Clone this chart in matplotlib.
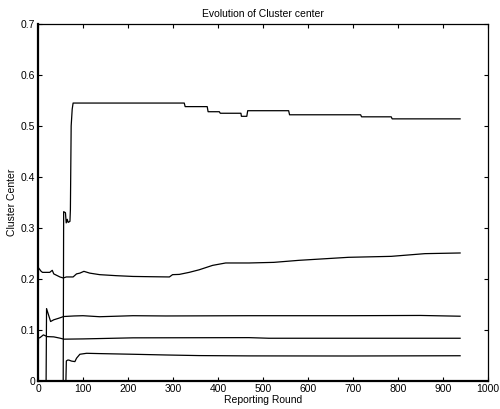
import numpy as np
import matplotlib
matplotlib.use("Agg")
import matplotlib.pyplot as plt
from matplotlib.ticker import FuncFormatter

plt.rcParams["font.family"] = ["Liberation Sans", "DejaVu Sans"]

# cluster center traces
round_a = [0, 56, 57, 61, 62.7, 65, 67, 71, 72, 73.7, 76, 78, 325, 327, 376, 378, 403, 405,
           451, 452, 464, 466, 557, 559, 717, 719, 785, 787, 938]
center_a = [0, 0, 0.332, 0.330, 0.310, 0.317, 0.311, 0.313, 0.336, 0.50, 0.533, 0.545, 0.545,
            0.538, 0.538, 0.528, 0.528, 0.525, 0.525, 0.519, 0.519, 0.530, 0.530, 0.522, 0.522,
            0.518, 0.518, 0.514, 0.514]

round_b = [0, 1, 7, 10, 26, 31.7, 35, 48.7, 56, 63, 78, 85.6, 93, 102, 115, 137, 174, 211, 248,
           292, 299, 314, 336, 358, 388, 417, 469, 524, 580, 690, 785, 860, 938]
center_b = [0, 0.222, 0.215, 0.213, 0.213, 0.217, 0.210, 0.204, 0.202, 0.204, 0.204, 0.210,
            0.2115, 0.215, 0.2115, 0.2085, 0.2065, 0.205, 0.2045, 0.204, 0.2085, 0.209, 0.213,
            0.218, 0.2267, 0.2314, 0.2314, 0.2326, 0.2366, 0.2425, 0.2444, 0.2497, 0.251]

round_c = [0, 18, 19, 28, 35, 46, 57, 80, 100, 137, 211, 284, 469, 690, 850, 938]
center_c = [0, 0, 0.142, 0.1166, 0.12, 0.123, 0.1264, 0.1275, 0.128, 0.126, 0.128, 0.1275,
            0.128, 0.128, 0.1285, 0.127]

round_d = [0, 1, 4.4, 12, 20.6, 35, 48.7, 57.5, 100, 211, 469, 513, 938]
center_d = [0, 0.084, 0.085, 0.0904, 0.087, 0.0865, 0.084, 0.082, 0.0825, 0.0846, 0.085,
            0.0838, 0.0838]

round_e = [0, 62, 63, 66, 68.6, 74.5, 82, 85.6, 93, 108, 137, 211, 284, 358, 469, 690, 938]
center_e = [0, 0, 0.0393, 0.041, 0.041, 0.039, 0.038, 0.0446, 0.0524, 0.0543, 0.0537, 0.0524,
            0.051, 0.0498, 0.0492, 0.049, 0.0495]

x_ticks = list(range(0, 1001, 100))
y_ticks = [0, 0.1, 0.2, 0.3, 0.4, 0.5, 0.6, 0.7]

fig = plt.figure(figsize=(5, 4.09), dpi=100)
ax = fig.add_axes([0.076, 0.0685, 0.9, 0.8728])

for xs, ys in [(round_a, center_a), (round_b, center_b), (round_c, center_c),
               (round_d, center_d), (round_e, center_e)]:
    ax.plot(xs, ys, color="black", lw=0.9)

ax.set_xlim(0, 1000)
ax.set_ylim(0, 0.7)
ax.set_xticks(x_ticks)
ax.set_yticks(y_ticks)
ax.yaxis.set_major_formatter(FuncFormatter(lambda v, p: "0" if v == 0 else "%g" % round(v, 1)))
ax.tick_params(direction="in", length=3, width=0.8, top=True, right=True,
               labelsize=7.5, pad=2, colors="black")

for side in ["left", "bottom"]:
    ax.spines[side].set_linewidth(1.6)
for side in ["top", "right"]:
    ax.spines[side].set_linewidth(0.9)

ax.set_title("Evolution of Cluster center", fontsize=7.5, pad=5)
ax.set_xlabel("Reporting Round", fontsize=7.5, labelpad=1)
ax.set_ylabel("Cluster Center", fontsize=7.5, labelpad=3)

plt.savefig("out.png", dpi=100)
